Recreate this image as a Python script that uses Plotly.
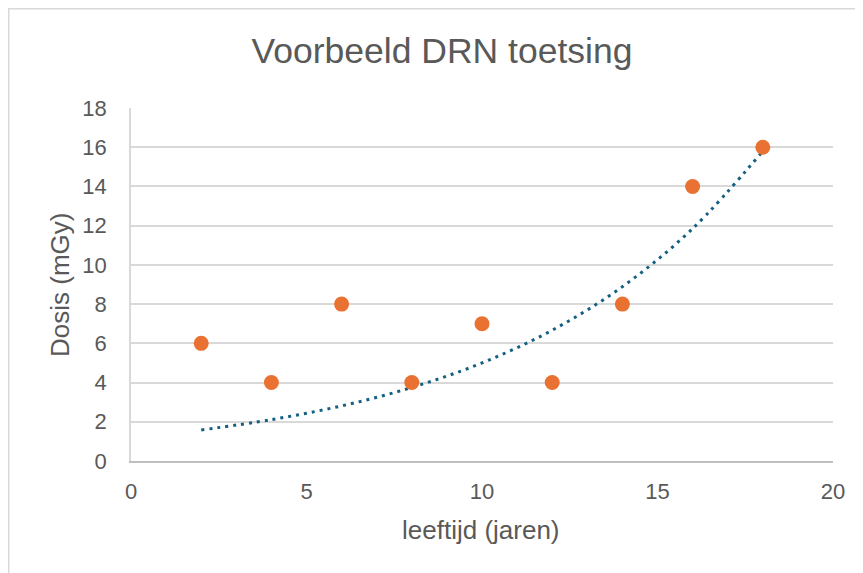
import plotly.graph_objects as go

# Data
age = [2, 4, 6, 8, 10, 12, 14, 16, 18]
dose = [6, 4, 8, 4, 7, 4, 8, 14, 16]

# Trendline values
trend_x = [2, 4, 6, 8, 10, 12, 14, 16, 18]
trend_y = [1.58, 2.11, 2.81, 3.75, 5.0, 6.67, 8.89, 11.85, 15.8]

title_text = "Voorbeeld DRN toetsing"
x_title = "leeftijd (jaren)"
y_title = "Dosis (mGy)"

FONT = "Liberation Sans, Arial, sans-serif"
TXT = "#595959"
GRID = "#d9d9d9"

OFF = 8  # page body margin
W, H = 863 - OFF, 573 - OFF
ML, MR, MT, MB = 123, 30, 100, 112
PW = W - ML - MR
PH = H - MT - MB

def px_x(p):
    return (p - OFF - ML) / PW

def px_y(p):
    return (H - MB - (p - OFF)) / PH

fig = go.Figure()

fig.add_trace(go.Scatter(
    x=trend_x, y=trend_y, mode="lines", line_shape="spline",
    line=dict(color="#156082", width=3, dash="3px,5px"),
    showlegend=False, hoverinfo="skip",
))

fig.add_trace(go.Scatter(
    x=age, y=dose, mode="markers",
    marker=dict(size=15, color="#E97132", line=dict(width=0)),
    showlegend=False,
))

fig.update_layout(
    width=W, height=H,
    margin=dict(l=ML, r=MR, t=MT, b=MB),
    paper_bgcolor="white", plot_bgcolor="white",
    font=dict(family=FONT, color=TXT),
    title=dict(text=title_text, x=(442 - OFF) / W, xanchor="center",
               y=1 - (51 - OFF) / H, yanchor="middle", xref="container", yref="container",
               font=dict(size=35.5, color=TXT, family=FONT)),
    xaxis=dict(range=[0, 20], dtick=5, tick0=0, showgrid=False,
               showline=True, linecolor="#bfbfbf", linewidth=1.5,
               zeroline=False, ticks="", tickfont=dict(size=22, color=TXT),
               ticklabelstandoff=10, fixedrange=True),
    yaxis=dict(range=[0, 18], dtick=2, tick0=0, showgrid=True,
               gridcolor=GRID, gridwidth=1.5, showline=True, linecolor=GRID,
               linewidth=1.5, zeroline=False, ticks="",
               tickfont=dict(size=22, color=TXT), ticklabelstandoff=18,
               fixedrange=True),
    annotations=[
        dict(text=x_title, x=px_x(481), y=px_y(530), xref="paper", yref="paper",
             showarrow=False, xanchor="center", yanchor="middle",
             font=dict(size=26, color=TXT, family=FONT)),
        dict(text=y_title, x=px_x(60), y=px_y(285), xref="paper", yref="paper",
             showarrow=False, xanchor="center", yanchor="middle", textangle=-90,
             font=dict(size=26, color=TXT, family=FONT)),
    ],
    shapes=[
        dict(type="path", xref="paper", yref="paper",
             path=f"M {px_x(OFF + 0.75)},{px_y(H + 40)} L {px_x(OFF + 0.75)},{px_y(OFF + 0.75)} L {px_x(W + 40)},{px_y(OFF + 0.75)}",
             line=dict(color=GRID, width=1.5), layer="below"),
    ],
)

fig.write_html("out.html")
